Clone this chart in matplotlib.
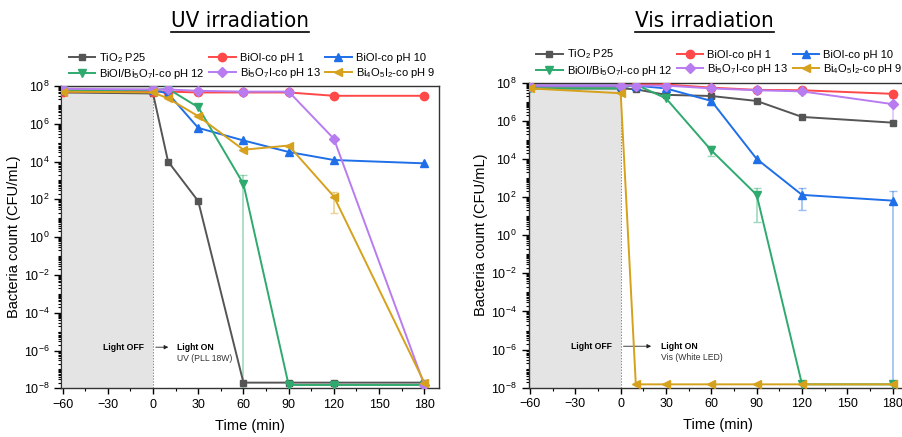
import numpy as np
import matplotlib
matplotlib.use("Agg")
import matplotlib.pyplot as plt
from matplotlib.ticker import LogLocator, FixedLocator, MultipleLocator
from matplotlib.lines import Line2D

plt.rcParams['font.family']=['Liberation Sans','DejaVu Sans']
plt.rcParams['mathtext.fontset']='custom'
plt.rcParams['mathtext.rm']='Liberation Sans'

# sampling times (min)
times=[-60,0,10,30,60,90,120,180]

names=["TiO$_2$ P25","BiOI-co pH 1","BiOI-co pH 10",
	"BiOI/Bi$_5$O$_7$I-co pH 12","Bi$_5$O$_7$I-co pH 13","Bi$_4$O$_5$I$_2$-co pH 9"]

# UV irradiation, CFU/mL
uv_tio2=[4.5e7,4e7,1e4,80,2e-8,2e-8,2e-8,2e-8]
uv_ph1=[5e7,5e7,5e7,4.5e7,4.5e7,4.5e7,3e7,3e7]
uv_ph10=[6e7,6e7,4e7,6e5,1.3e5,3.2e4,1.2e4,8e3]
uv_ph12=[6e7,6e7,7e7,7.5e6,6.5e2,1.5e-8,1.5e-8,1.5e-8]
uv_ph13=[7e7,6.5e7,6.5e7,5.5e7,5e7,5e7,1.6e5,1.5e-8]
uv_ph9=[5e7,4.5e7,2.2e7,2.5e6,4.2e4,7e4,1.4e2,2e-8]

# Vis irradiation, CFU/mL
vis_tio2=[5e7,5e7,4.5e7,2.3e7,2e7,1.1e7,1.6e6,8e5]
vis_ph1=[7e7,7e7,8e7,8e7,5.5e7,4.2e7,4e7,2.6e7]
vis_ph10=[7e7,7e7,7e7,5e7,1.1e7,1e4,1.3e2,6.5e1]
vis_ph12=[5e7,5e7,8e7,1.5e7,2.8e4,1.3e2,1.5e-8,1.5e-8]
vis_ph13=[7e7,7e7,7e7,7e7,5e7,4e7,3.5e7,7.5e6]
vis_ph9=[5e7,2.8e7,1.5e-8,1.5e-8,1.5e-8,1.5e-8,1.5e-8,1.5e-8]

# error bars: (series index, time, low, high)
uv_err=[(3,60,1e-8,2e3),(5,120,20,250)]
vis_err=[(2,60,7e6,1.6e7),(3,60,1.5e4,5e4),(3,90,5,300),(2,120,20,300),(2,180,1e-8,2e2),(4,180,1e6,1.5e7)]

colors=["#555555","#ff4848","#1f6fe8","#2eaa6e","#b87cf0","#d6a11c"]
markers=["s","o","^","v","D","<"]
msizes=[5,6,6,6,5,6]


def draw_panel(ax,series,errs,light_txt,arrow_end,on_x):
	ax.axvspan(-60,0,color="#e4e4e4",zorder=0,lw=0)
	ax.axvline(0,color="#888888",ls=(0,(1.5,1.5)),lw=0.7,zorder=1)
	for idx,vals in enumerate(series):
		ax.plot(times,vals,color=colors[idx],marker=markers[idx],ms=msizes[idx],
			lw=1.4,label=names[idx],zorder=3+idx*0.1)
	for idx,t,lo,hi in errs:
		v=series[idx][times.index(t)]
		ax.errorbar([t],[v],yerr=[[v-lo],[hi-v]],fmt="none",ecolor=colors[idx],
			alpha=0.45,capsize=3,elinewidth=1.2,zorder=2)

	ax.set_yscale("log")
	ax.set_ylim(1e-8,1e8)
	ax.set_xlim(-61,190)
	ax.yaxis.set_major_locator(FixedLocator([10.0**k for k in range(-8,9,2)]))
	ax.yaxis.set_minor_locator(LogLocator(base=10,subs=np.arange(1,10),numticks=100))
	ax.yaxis.set_minor_formatter(plt.NullFormatter())
	ax.xaxis.set_major_locator(FixedLocator([-60,-30,0,30,60,90,120,150,180]))
	ax.xaxis.set_minor_locator(MultipleLocator(15))
	ax.set_xticklabels(["\u221260","\u221230","0","30","60","90","120","150","180"])
	ax.tick_params(axis="both",which="major",labelsize=9,length=4,width=1)
	ax.tick_params(axis="both",which="minor",length=2.5,width=0.8)
	ax.tick_params(axis="y",which="major",length=5)
	for sp in ax.spines.values():
		sp.set_linewidth(1.0)
		sp.set_color("#333333")
	ax.set_xlabel("Time (min)",fontsize=10.5,labelpad=6)
	ax.set_ylabel("Bacteria count (CFU/mL)",fontsize=10.5,labelpad=2)

	ax.text(-6,1.5e-6,"Light OFF",fontsize=6.2,fontweight="bold",ha="right",va="center")
	ax.annotate("",xy=(arrow_end,1.5e-6),xytext=(0,1.5e-6),
		arrowprops=dict(arrowstyle="-|>",color="#222222",lw=0.6,mutation_scale=6))
	ax.text(on_x,1.5e-6,"Light ON",fontsize=6.2,fontweight="bold",ha="left",va="center")
	ax.text(on_x,4e-7,light_txt,fontsize=6.2,ha="left",va="center",color="#333333")

	h,l=ax.get_legend_handles_labels()
	order=[0,3,1,4,2,5]
	ax.legend([h[i] for i in order],[l[i] for i in order],ncol=3,loc="lower left",
		bbox_to_anchor=(0.02,1.015),frameon=False,fontsize=8,handlelength=2.4,
		handletextpad=0.35,columnspacing=0.4,borderpad=0,borderaxespad=0,labelspacing=0.25)


fig=plt.figure(figsize=(9.03,4.37),dpi=100)
ax1=fig.add_axes([0.0676,0.1114,0.419,0.692])
ax2=fig.add_axes([0.5853,0.1128,0.42,0.698])

draw_panel(ax1,[uv_tio2,uv_ph1,uv_ph10,uv_ph12,uv_ph13,uv_ph9],uv_err,"UV (PLL 18W)",12,16)
draw_panel(ax2,[vis_tio2,vis_ph1,vis_ph10,vis_ph12,vis_ph13,vis_ph9],vis_err,"Vis (White LED)",22,27)

# panel titles, underlined
titles=[]
for xc,txt in [(0.266,"UV irradiation"),(0.78,"Vis irradiation")]:
	t=fig.text(xc,0.953,txt,ha="center",va="center",fontsize=16,
		family="DejaVu Sans",fontstretch="condensed")
	titles.append(t)
fig.canvas.draw()
r=fig.canvas.get_renderer()
for t in titles:
	bb=t.get_window_extent(r).transformed(fig.transFigure.inverted())
	fig.add_artist(Line2D([bb.x0,bb.x1],[bb.y0-0.004,bb.y0-0.004],color="black",lw=1.2))

fig.savefig("out.png",dpi=100)
